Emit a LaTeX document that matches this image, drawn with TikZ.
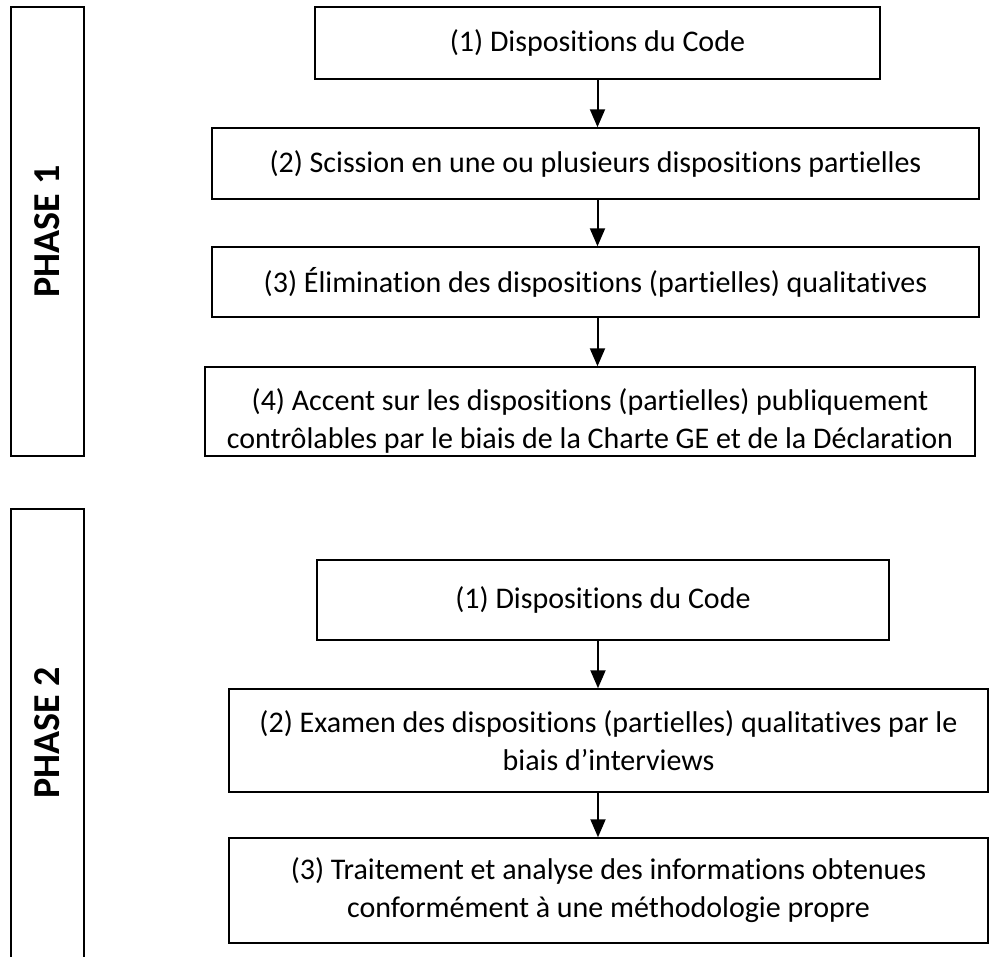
\documentclass[tikz,border=0pt]{standalone}
\usepackage{fontspec}
\setmainfont{Carlito}[Ligatures=NoCommon]
\usetikzlibrary{arrows.meta,calc}
\tikzset{
  box/.style={draw, line width=1.5pt, inner sep=0pt, align=center,
    font=\fontsize{30}{38}\selectfont},
  frame/.style={draw, line width=2pt, inner sep=0pt},
  phaselabel/.style={rotate=90, font=\fontsize{38}{44}\selectfont\bfseries},
  arr/.style={line width=2pt, -{Triangle[width=15pt,length=18pt]}}
}
\begin{document}
\begin{tikzpicture}[x=1pt,y=-1pt]
\path[use as bounding box, clip] (0,0) rectangle (990,956);
% Phase 1
\node[frame, minimum width=73pt, minimum height=449pt] (p1) at (47.5,231.5) {};
\node[phaselabel] (lp1) at (p1.center) {PHASE 1};
\node[box, minimum width=565pt, minimum height=72pt] (b1) at (597.5,43) {\raisebox{5pt}{(1) Dispositions du Code}};
\node[box, minimum width=767pt, minimum height=71pt] (b2) at (595.5,163.5) {(2) Scission en une ou plusieurs dispositions partielles};
\node[box, minimum width=767pt, minimum height=70pt] (b3) at (595.5,282) {(3) \'Elimination des dispositions (partielles) qualitatives};
\node[box, minimum width=770pt, minimum height=89pt,
  path picture={\node[align=center, inner sep=0pt, font=\fontsize{30}{38}\selectfont, anchor=north]
    at ($(path picture bounding box.north)+(0,9)$)
    {(4) Accent sur les dispositions (partielles) publiquement\\contr\^olables par le biais de la Charte GE et de la D\'eclaration};}]
  (b4) at (590,411.5) {};
\draw[arr] (b1.south) -- (b1.south |- b2.north);
\draw[arr] (b2.south -| b1.south) -- (b1.south |- b3.north);
\draw[arr] (b3.south -| b1.south) -- (b1.south |- b4.north);
% Phase 2
\node[minimum width=73pt, minimum height=471pt, inner sep=0pt] (p2) at (47.5,744.5) {};
\draw[line width=2pt] (p2.south west) |- (p2.north east) -- (p2.south east);
\node[phaselabel] (lp2) at (47.5,733) {PHASE 2};
\node[box, minimum width=572pt, minimum height=80pt] (c1) at (603,600) {\raisebox{-3pt}{(1) Dispositions du Code}};
\node[box, minimum width=759pt, minimum height=103pt] (c2) at (608.5,740.5) {(2) Examen des dispositions (partielles) qualitatives par le\\biais d’interviews};
\node[box, minimum width=759pt, minimum height=105pt] (c3) at (608.5,890.5) {(3) Traitement et analyse des informations obtenues\\conform\'ement \`a une m\'ethodologie propre};
\coordinate (ax) at (598,0);
\draw[arr] (c1.south -| ax) -- (c2.north -| ax);
\draw[arr] (c2.south -| ax) -- (c3.north -| ax);
\end{tikzpicture}
\end{document}
